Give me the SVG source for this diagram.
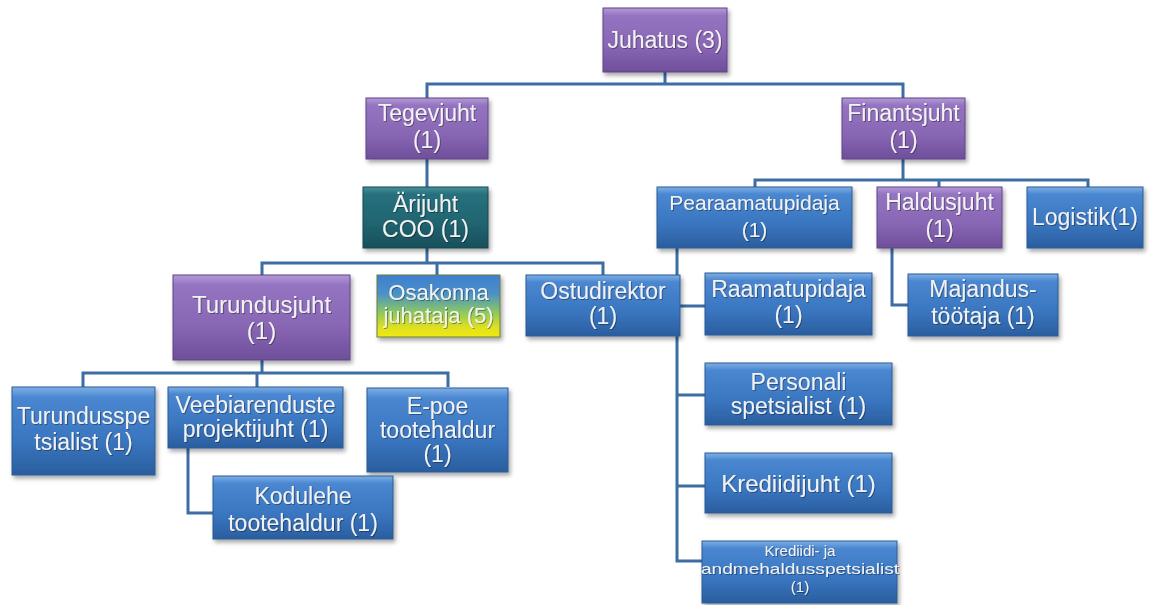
<svg xmlns="http://www.w3.org/2000/svg" width="1152" height="605" viewBox="0 0 1152 605">
<defs>
<linearGradient id="gBlue" x1="0" y1="0" x2="0" y2="1">
<stop offset="0" stop-color="#7fb0e6"/><stop offset="0.12" stop-color="#4a87d0"/><stop offset="0.6" stop-color="#3a76c0"/><stop offset="1" stop-color="#2a5e9f"/>
</linearGradient>
<linearGradient id="gPurple" x1="0" y1="0" x2="0" y2="1">
<stop offset="0" stop-color="#b49ad8"/><stop offset="0.12" stop-color="#9474c0"/><stop offset="0.6" stop-color="#8866b4"/><stop offset="1" stop-color="#6e4f9a"/>
</linearGradient>
<linearGradient id="gTeal" x1="0" y1="0" x2="0" y2="1">
<stop offset="0" stop-color="#4a8f9c"/><stop offset="0.12" stop-color="#26707d"/><stop offset="0.6" stop-color="#216470"/><stop offset="1" stop-color="#17505a"/>
</linearGradient>
<linearGradient id="gMix" x1="0" y1="0" x2="0" y2="1">
<stop offset="0" stop-color="#3f7fd0"/><stop offset="0.3" stop-color="#4a90c8"/><stop offset="0.6" stop-color="#8cc860"/><stop offset="0.85" stop-color="#e0e020"/><stop offset="1" stop-color="#f0ea10"/>
</linearGradient>
<filter id="sh" x="-10%" y="-10%" width="125%" height="135%">
<feDropShadow dx="2" dy="3" stdDeviation="2" flood-color="#000" flood-opacity="0.35"/>
</filter>
<filter id="tsh" x="-10%" y="-20%" width="120%" height="150%">
<feDropShadow dx="1" dy="1" stdDeviation="0.6" flood-color="#000" flood-opacity="0.35"/>
</filter>
</defs>
<style>
.blue{fill:url(#gBlue);stroke:#2b5b94;stroke-width:1}
.purple{fill:url(#gPurple);stroke:#5f4488;stroke-width:1}
.teal{fill:url(#gTeal);stroke:#154850;stroke-width:1}
.mix{fill:url(#gMix);stroke:#6a7a40;stroke-width:1}
rect{filter:url(#sh)}
text{font-family:"Liberation Sans",Arial,sans-serif;font-size:23px;fill:#f2f2f2;text-anchor:middle;filter:url(#tsh)}
.md{font-size:22px}
.sm{font-size:21px}
.lg{font-size:24px}
.xs{font-size:15px}
.ln{fill:none;stroke:#3c6da3;stroke-width:3}
</style>
<rect width="1152" height="605" fill="#ffffff" style="filter:none"/>
<g id="connectors" class="ln">
<path d="M665 72V84H427V98M665 84H903V98"/>
<path d="M427 159V187"/>
<path d="M903 159V180M755 187V180H1088V187M939 180V187"/>
<path d="M427 248V263M262 275V263H603V275M437 263V275"/>
<path d="M677 248V561H702M677 306H705M677 395H705M677 486H705"/>
<path d="M892 248V305H908"/>
<path d="M262 360V373M83 387V373H448V387M257 373V387"/>
<path d="M188 448V513H213"/>
</g>
<g id="juhatus"><rect class="purple" x="603" y="8" width="124" height="64"/><text x="665" y="48">Juhatus (3)</text></g>
<g id="tegevjuht"><rect class="purple" x="366" y="98" width="122" height="61"/><text x="427" y="121">Tegevjuht</text><text x="427" y="148">(1)</text></g>
<g id="finantsjuht"><rect class="purple" x="842" y="98" width="123" height="61"/><text x="903.5" y="121">Finantsjuht</text><text x="903.5" y="148">(1)</text></g>
<g id="arijuht"><rect class="teal" x="363" y="187" width="125" height="61"/><text x="425.5" y="212">Ärijuht</text><text x="425.5" y="237">COO (1)</text></g>
<g id="pearaamatupidaja"><rect class="blue" x="657" y="187" width="195" height="61"/><text class="sm" x="754.5" y="210">Pearaamatupidaja</text><text class="sm" x="754.5" y="237">(1)</text></g>
<g id="haldusjuht"><rect class="purple" x="877" y="187" width="125" height="61"/><text x="939.5" y="210">Haldusjuht</text><text x="939.5" y="237">(1)</text></g>
<g id="logistik"><rect class="blue" x="1027" y="187" width="116" height="61"/><text x="1085" y="225">Logistik(1)</text></g>
<g id="turundusjuht"><rect class="purple" x="173" y="275" width="177" height="85"/><text class="lg" x="261.5" y="313">Turundusjuht</text><text class="lg" x="261.5" y="339">(1)</text></g>
<g id="osakonna"><rect class="mix" x="377" y="275" width="123" height="62"/><text class="md" x="438.5" y="300">Osakonna</text><text class="md" x="438.5" y="323">juhataja (5)</text></g>
<g id="ostudirektor"><rect class="blue" x="526" y="275" width="154" height="61"/><text x="603" y="299">Ostudirektor</text><text x="603" y="324">(1)</text></g>
<g id="raamatupidaja"><rect class="blue" x="705" y="273" width="167" height="62"/><text x="788.5" y="297">Raamatupidaja</text><text x="788.5" y="323">(1)</text></g>
<g id="majandus"><rect class="blue" x="908" y="274" width="150" height="62"/><text x="983" y="297">Majandus-</text><text x="983" y="324">töötaja (1)</text></g>
<g id="turundusspetsialist"><rect class="blue" x="12" y="387" width="143" height="88"/><text x="83.5" y="424">Turundusspe</text><text x="83.5" y="450">tsialist (1)</text></g>
<g id="veebiarenduste"><rect class="blue" x="168" y="387" width="175" height="61"/><text x="255.5" y="413">Veebiarenduste</text><text x="255.5" y="437">projektijuht (1)</text></g>
<g id="epoe"><rect class="blue" x="367" y="388" width="141" height="84"/><text x="437.5" y="414">E-poe</text><text x="437.5" y="438">tootehaldur</text><text x="437.5" y="462">(1)</text></g>
<g id="kodulehe"><rect class="blue" x="213" y="476" width="180" height="63"/><text x="303" y="504">Kodulehe</text><text x="303" y="531">tootehaldur (1)</text></g>
<g id="personali"><rect class="blue" x="705" y="363" width="187" height="62"/><text x="798.5" y="390">Personali</text><text x="798.5" y="414">spetsialist (1)</text></g>
<g id="krediidijuht"><rect class="blue" x="705" y="453" width="187" height="60"/><text class="lg" x="798.5" y="492">Krediidijuht (1)</text></g>
<g id="krediidi-andmehaldus"><rect class="blue" x="702" y="541" width="195" height="62"/><text class="xs" x="800" y="556">Krediidi- ja</text><text class="xs" x="800" y="574" textLength="198" lengthAdjust="spacingAndGlyphs">andmehaldusspetsialist</text><text class="xs" x="800" y="592">(1)</text></g>
</svg>
